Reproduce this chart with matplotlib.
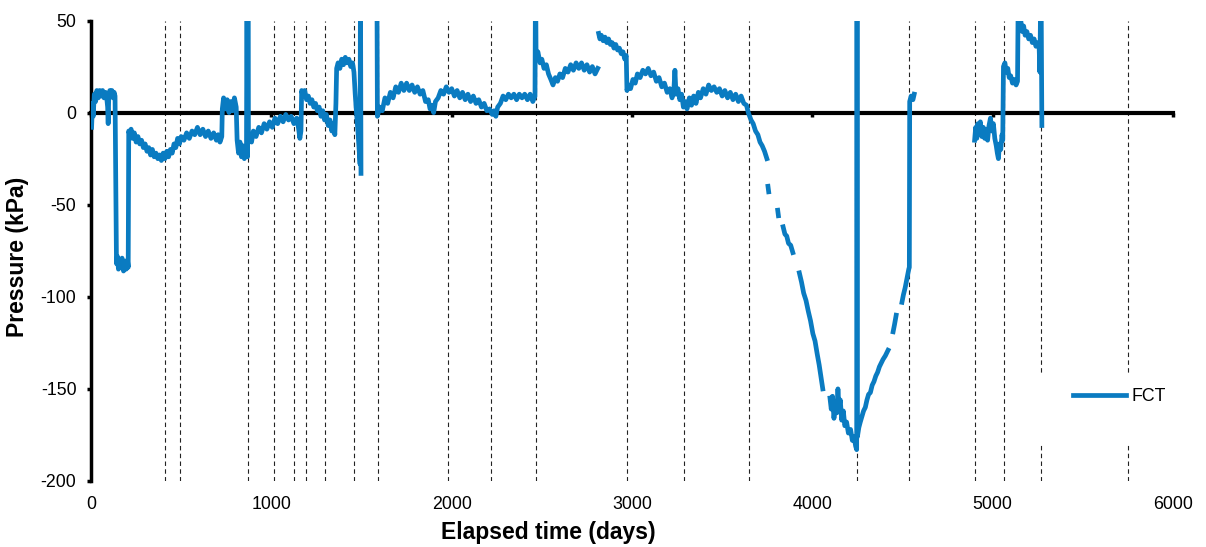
import numpy as np
import matplotlib
matplotlib.use("Agg")
import matplotlib.pyplot as plt
from matplotlib.patches import Rectangle

plt.rcParams['font.family'] = ['Liberation Sans', 'DejaVu Sans']
plt.rcParams['axes.unicode_minus'] = False

nan = np.nan

# FCT pressure record (days, kPa); nan marks gaps in the record
days = [
    3, 8, 12, 18, 25, 32, 40, 48, 56, 64, 72, 80, 88, 92, 95, 98, 104, 110, 116, 122, 128, 133,
    137, 141, 146, 152, 158, 165, 172, 180, 188, 195, 202, 206,
    209, 214, 222, 230, 240, 250, 260, 270, 280, 290, 300, 310, 320, 330, 340, 350, 360, 370,
    380, 390, 400, 410, 420, 430, 440, 450, 460, 470, 480, 490, 500, 515, 530, 545, 560, 575,
    590, 605, 620, 635, 650, 665, 680, 695, 705, 715, 725,
    728, 735, 745, 755, 765, 775, 785, 795, 805, 810, 818, 826, 834, 842, 850, 862, 865, 868,
    870, 873, 880, 890, 900, 915, 930, 945, 960, 975, 990, 1005, 1020, 1035, 1050, 1065, 1080,
    1095, 1110, 1125, 1140, 1150, 1158, 1164,
    1168, 1175, 1185, 1195, 1205, 1215, 1225, 1235, 1245, 1255, 1265, 1275, 1285, 1295, 1305,
    1315, 1325, 1335, 1345, 1352, 1358, 1362, 1370, 1380, 1390, 1400, 1410, 1420, 1430, 1440,
    1450, 1458, 1465, 1472, 1480, 1487, 1492, 1494, 1497, 1540,
    1585, 1588, 1600, 1615, 1630, 1645, 1660, 1675, 1690, 1705, 1720, 1735, 1750, 1765, 1780,
    1795, 1810, 1825, 1840, 1855, 1870, 1880, 1890, 1900, 1910, 1925, 1940, 1955, 1970, 1985,
    2000, 2015, 2030, 2045, 2060, 2075, 2090, 2105, 2120, 2135, 2150, 2165, 2180, 2195, 2210,
    2225, 2235, 2245, 2255, 2270, 2285, 2300, 2315, 2330, 2345, 2360, 2375, 2390, 2405, 2420,
    2435, 2450, 2462, 2465, 2468, 2478, 2490, 2500, 2512, 2525, 2537, 2550, 2562, 2575, 2587,
    2600, 2615, 2630, 2645, 2660, 2675, 2690, 2705, 2720, 2735, 2750, 2765, 2780, 2795, 2810, 2812,
    2815, 2822, 2830, 2840, 2850, 2860, 2870, 2880, 2890, 2900, 2910, 2920, 2930, 2940, 2950,
    2960, 2968, 2972, 2980, 2992, 3005, 3018, 3030, 3045, 3060, 3075, 3090, 3105, 3120, 3135,
    3150, 3165, 3180, 3195, 3210, 3222, 3232, 3238, 3244, 3255, 3265, 3275, 3285, 3295, 3305,
    3318, 3330, 3342, 3355, 3368, 3380, 3395, 3410, 3425, 3440, 3455, 3470, 3485, 3500, 3515,
    3530, 3545, 3560, 3575, 3590, 3605, 3620, 3635, 3645, 3660, 3672, 3685, 3698, 3710, 3722,
    3735, 3748, 3751,
    3754, 3758, 3760, 3808, 3812, 3814,
    3838, 3848, 3858, 3868, 3880, 3892, 3900,
    3928, 3940, 3952, 3965, 3978, 3990, 4003, 4015, 4027, 4038, 4050, 4058, 4070,
    4098, 4105, 4112, 4120, 4128, 4136, 4142, 4148, 4155, 4163, 4172, 4180, 4190, 4200, 4212,
    4222, 4232, 4240, 4246, 4248, 4250, 4258, 4266, 4275, 4284, 4294, 4303, 4312, 4322, 4332,
    4342, 4352, 4362, 4372, 4382, 4392, 4405, 4420, 4430,
    4448, 4456, 4465, 4475,
    4497, 4505, 4515, 4525, 4535, 4538, 4540, 4548, 4558, 4565, 4700,
    4900, 4906, 4912, 4918, 4925, 4932, 4940, 4948, 4956, 4964, 4972, 4980, 4988, 4996, 5004,
    5012, 5020, 5026, 5032, 5038, 5045, 5052, 5056, 5060, 5068, 5076, 5084, 5092, 5100, 5110,
    5120, 5130, 5138, 5142, 5148, 5156, 5164, 5172, 5180, 5190, 5200, 5210, 5220, 5230, 5240,
    5250, 5258, 5262, 5268, 5273,
]
pressure = [
    -8, 5, -2, 10, 6, 12, 8, 12, 9, 12, 8, 11, 7, 3, -6, 8, 12, 9, 12, 8, 11, 9,
    -40, -82, -78, -85, -80, -84, -79, -86, -81, -85, -80, -84,
    -10, -12, -9, -14, -11, -16, -13, -17, -15, -19, -17, -21, -19, -23, -20, -24, -22, -25,
    -23, -26, -22, -25, -21, -24, -20, -22, -17, -19, -14, -17, -13, -15, -11, -14, -10, -12,
    -8, -12, -9, -13, -10, -14, -11, -15, -12, -16, -13,
    2, 8, 2, 7, 0, 6, 1, 8, 3, -15, -22, -16, -24, -18, -25, -20, 80, -24,
    80, -16, -12, -16, -10, -13, -8, -11, -6, -9, -5, -8, -3, -6, -2, -5, -1,
    -4, -2, -6, -3, -8, -14, -10,
    12, 9, 12, 7, 9, 5, 7, 3, 5, 1, 3, -2, 1, -4, -1,
    -7, -4, -10, -6, -12, 5, 24, 27, 24, 29, 26, 30, 27, 29, 25,
    27, 22, 10, 0, -10, -20, -28, 80, -33, nan,
    80, -2, 3, 1, 8, 5, 11, 8, 14, 11, 16, 12, 16, 12, 15,
    11, 14, 10, 12, 6, 7, 2, 4, 0, 6, 8, 12, 10, 14, 11,
    13, 9, 12, 8, 11, 7, 10, 6, 9, 5, 7, 3, 5, 1, 2,
    -1, 1, -2, 3, 5, 9, 7, 10, 8, 10, 7, 10, 8, 10, 7,
    10, 6, 9, 80, 30, 33, 27, 29, 24, 26, 21, 18, 15, 19, 17,
    21, 19, 24, 22, 26, 23, 27, 24, 27, 23, 26, 22, 25, 21, 24, nan,
    43, 40, 42, 39, 41, 38, 40, 37, 38, 35, 37, 34, 35, 32, 33,
    29, 31, 12, 15, 13, 18, 16, 21, 19, 23, 21, 24, 20, 22, 17,
    19, 14, 16, 11, 13, 8, 12, 23, 10, 13, 7, 10, 3, 6, 2,
    8, 4, 9, 5, 11, 8, 13, 10, 15, 12, 14, 11, 13, 9, 12,
    8, 11, 7, 10, 6, 9, 5, 4, 0, -4, -6, -10, -12, -16, -18,
    -21, -25, nan,
    -40, -43, nan, -53, -56, nan,
    -62, -66, -67, -71, -72, -76, nan,
    -87, -92, -98, -102, -108, -113, -120, -124, -131, -137, -145, -150, nan,
    -155, -161, -154, -166, -158, -163, -150, -160, -156, -167, -162, -170, -168, -174, -172,
    -178, -176, -181, -183, 80, -176, -171, -168, -165, -162, -160, -156, -153, -152, -148,
    -146, -143, -141, -138, -136, -134, -132, -129, nan,
    -119, -115, -110, nan,
    -103, -99, -95, -90, -85, -84, 6, 9, 7, 10, nan,
    -15, -8, -14, -6, -12, -5, -13, -8, -14, -9, -15, -7, -3, -10, -6,
    -14, -18, -22, -25, -17, -20, -12, -15, 25, 27, 22, 24, 19, 20, 16,
    18, 15, 17, 65, 49, 50, 44, 47, 42, 44, 40, 42, 38, 40, 36,
    38, 35, 22, 80, -7,
]

# test / event dates marked with dashed lines
event_days = [410, 495, 869, 1015, 1124, 1190, 1299, 1457, 1590, 1980, 2218, 2466,
              2974, 3290, 3649, 4246, 4538, 4904, 5065, 5266, 5750]

x_ticks = [0, 1000, 2000, 3000, 4000, 5000, 6000]
y_ticks = [-200, -150, -100, -50, 0, 50]

fig = plt.figure(figsize=(12.06, 5.47), dpi=100)
ax = fig.add_axes([0.0755, 0.1207, 0.8971, 0.8418])

for d in event_days:
    ax.axvline(d, color='#222222', lw=0.8, dashes=(4, 3), zorder=1)

# white legend box covering the dashed lines
ax.add_patch(Rectangle((0.872, 0.0825), 0.128, 0.152, transform=ax.transAxes,
                       facecolor='white', edgecolor='none', zorder=2))

ax.plot(days, pressure, color='#0A7BC1', lw=3.4, label='FCT', zorder=4)

ax.set_xlim(0, 6000)
ax.set_ylim(-200, 50)

for s in ['top', 'right']:
    ax.spines[s].set_visible(False)
ax.spines['bottom'].set_position(('data', 0))
ax.spines['bottom'].set_linewidth(3)
ax.spines['bottom'].set_zorder(3)
ax.spines['left'].set_linewidth(2.5)

ax.set_xticks(x_ticks)
ax.set_yticks(y_ticks)
ax.tick_params(axis='x', direction='out', length=3, width=2.5, labelbottom=False)
ax.tick_params(axis='y', direction='out', length=3, width=2.5, pad=7.5, labelsize=12.8)

sec = ax.secondary_xaxis('bottom')
sec.set_xticks(x_ticks)
sec.spines['bottom'].set_visible(False)
sec.tick_params(length=0, pad=11, labelsize=12.8)

ax.set_xlabel('Elapsed time (days)', fontsize=16.5, fontweight='bold')
ax.xaxis.set_label_coords(0.4224, -0.088)
ax.set_ylabel('Pressure (kPa)', fontsize=16.5, fontweight='bold')
ax.yaxis.set_label_coords(-0.057, 0.486)

ax.legend(loc='center left', bbox_to_anchor=(0.9076, 0.1824), frameon=False,
          borderpad=0, borderaxespad=0, handlelength=3.0, handletextpad=0.3,
          fontsize=12.8)

fig.savefig('out.png', dpi=100)
